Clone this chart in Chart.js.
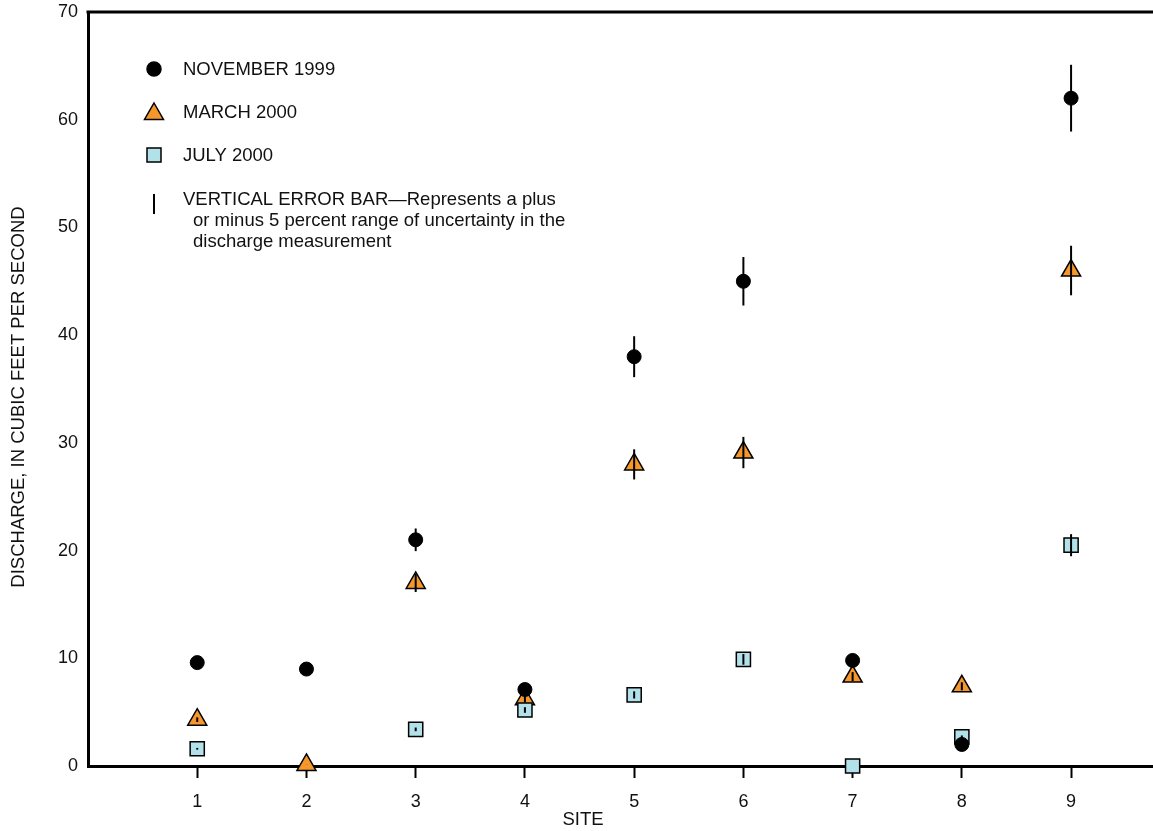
<!DOCTYPE html>
<html>
<head>
<meta charset="utf-8">
<script src="https://cdn.jsdelivr.net/npm/chart.js@4.4.1/dist/chart.umd.min.js"></script>
<style>
  html, body { margin: 0; padding: 0; background: #fff; overflow: hidden; }
  canvas { display: block; }
</style>
</head>
<body>
<canvas id="grafico" width="1153" height="831"></canvas>
<script>
// sites on the x axis
const sites = [1, 2, 3, 4, 5, 6, 7, 8, 9];
const siteLabels = ['1', '2', '3', '4', '5', '6', '7', '8', '9'];
const yTicks = [0, 10, 20, 30, 40, 50, 60, 70];

// discharge, cubic feet per second
const nov1999 = [9.6, 9.0, 21.0, 7.1, 38.0, 45.0, 9.8, 2.0, 62.0];
const mar2000 = [4.3, 0.1, 17.0, 6.2, 28.0, 29.1, 8.3, 7.4, 46.0];
const jul2000 = [1.6, null, 3.4, 5.2, 6.6, 9.9, 0.0, 2.7, 20.5];

const errorPct = 0.05;
const FONT = "'Liberation Sans', Arial, Helvetica, sans-serif";
const ORANGE = '#f5972b';
const BLUE = '#b3e1ea';

const toPoints = vals => sites.map((s, i) => ({ x: s, y: vals[i] })).filter(p => p.y !== null);

// ============================
//   error bars + frame + text
// ============================

const errorBars = {
  id: 'errorBars',
  afterDatasetsDraw(chart) {
    const ctx = chart.ctx;
    const y = chart.scales.y;
    ctx.save();
    ctx.strokeStyle = '#000';
    ctx.lineWidth = 2;
    chart.data.datasets.forEach((ds, di) => {
      const meta = chart.getDatasetMeta(di);
      ds.data.forEach((p, i) => {
        const el = meta.data[i];
        if (!el || !p.y) return;
        ctx.beginPath();
        ctx.moveTo(el.x, y.getPixelForValue(p.y * (1 - errorPct)));
        ctx.lineTo(el.x, y.getPixelForValue(p.y * (1 + errorPct)));
        ctx.stroke();
      });
    });
    ctx.restore();
  }
};

function marker(ctx, type, x, y) {
  ctx.save();
  ctx.lineWidth = 1.5;
  ctx.strokeStyle = '#000';
  ctx.beginPath();
  if (type === 'circle') {
    ctx.fillStyle = '#000';
    ctx.arc(x, y, 7, 0, Math.PI * 2);
  } else if (type === 'triangle') {
    ctx.fillStyle = ORANGE;
    ctx.moveTo(x, y - 11);
    ctx.lineTo(x + 9.5, y + 5.5);
    ctx.lineTo(x - 9.5, y + 5.5);
    ctx.closePath();
  } else {
    ctx.fillStyle = BLUE;
    ctx.rect(x - 7, y - 7, 14, 14);
  }
  ctx.fill();
  ctx.stroke();
  ctx.restore();
}

const decor = {
  id: 'decor',
  afterDraw(chart) {
    const ctx = chart.ctx;
    const a = chart.chartArea;
    ctx.save();
    // top frame line
    ctx.strokeStyle = '#000';
    ctx.lineWidth = 3;
    ctx.beginPath();
    ctx.moveTo(a.left - 1.5, a.top);
    ctx.lineTo(a.right, a.top);
    ctx.stroke();

    // legend
    ctx.fillStyle = '#111';
    ctx.font = '18.5px ' + FONT;
    ctx.textBaseline = 'middle';
    ctx.textAlign = 'left';
    marker(ctx, 'circle', 154, 69);
    ctx.fillText('NOVEMBER 1999', 183, 70);
    marker(ctx, 'triangle', 154, 114);
    ctx.fillText('MARCH 2000', 183, 113);
    marker(ctx, 'square', 154, 155);
    ctx.fillText('JULY 2000', 183, 156);
    ctx.lineWidth = 2;
    ctx.beginPath();
    ctx.moveTo(154, 194);
    ctx.lineTo(154, 214);
    ctx.stroke();
    ctx.fillText('VERTICAL ERROR BAR\u2014Represents a plus', 183, 200);
    ctx.fillText('or minus 5 percent range of uncertainty in the', 193, 221);
    ctx.fillText('discharge measurement', 193, 242);

    // axis titles
    ctx.textAlign = 'center';
    ctx.fillText('SITE', 583, 820);
    ctx.translate(19, 397);
    ctx.rotate(-Math.PI / 2);
    ctx.fillText('DISCHARGE, IN CUBIC FEET PER SECOND', 0, 0);
    ctx.restore();
  }
};

const ctx = document.getElementById('grafico').getContext('2d');

new Chart(ctx, {
  type: 'scatter',
  data: {
    datasets: [
      {
        label: 'NOVEMBER 1999',
        data: toPoints(nov1999),
        pointStyle: 'circle',
        pointRadius: 7,
        backgroundColor: '#000',
        borderColor: '#000',
        borderWidth: 1,
        clip: false
      },
      {
        label: 'JULY 2000',
        data: toPoints(jul2000),
        pointStyle: 'rect',
        pointRadius: 10,
        backgroundColor: BLUE,
        borderColor: '#000',
        borderWidth: 1.5,
        clip: false
      },
      {
        label: 'MARCH 2000',
        data: toPoints(mar2000),
        pointStyle: 'triangle',
        pointRadius: 11,
        backgroundColor: ORANGE,
        borderColor: '#000',
        borderWidth: 1.5,
        clip: false
      }
    ]
  },
  options: {
    responsive: false,
    animation: false,
    layout: { autoPadding: false, padding: { top: 12, right: 0, left: 0, bottom: 0 } },
    plugins: {
      legend: { display: false },
      tooltip: { enabled: false }
    },
    scales: {
      x: {
        type: 'linear',
        min: 0,
        max: 9.75,
        afterBuildTicks: s => { s.ticks = sites.map(v => ({ value: v })); },
        afterFit: s => { s.height = 65; s.paddingLeft = 0; s.paddingRight = 0; },
        ticks: {
          color: '#111',
          font: { family: FONT, size: 18 },
          padding: 13,
          maxRotation: 0,
          callback: v => siteLabels[sites.indexOf(v)] ?? ''
        },
        grid: {
          drawOnChartArea: false,
          drawTicks: true,
          tickLength: 12,
          tickColor: '#000',
          tickWidth: 2
        },
        border: { display: true, color: '#000', width: 3 }
      },
      y: {
        min: 0,
        max: 70,
        afterBuildTicks: s => { s.ticks = yTicks.map(v => ({ value: v })); },
        afterFit: s => { s.width = 88; s.paddingTop = 0; s.paddingBottom = 0; },
        ticks: {
          color: '#111',
          font: { family: FONT, size: 18 },
          padding: 10
        },
        grid: { display: false, drawTicks: false },
        border: { display: true, color: '#000', width: 3 }
      }
    }
  },
  plugins: [errorBars, decor]
});
</script>
</body>
</html>
